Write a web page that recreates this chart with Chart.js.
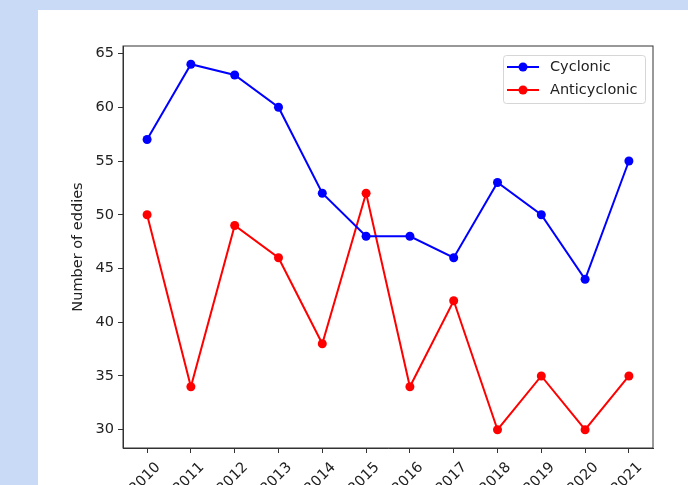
<!DOCTYPE html>
<html>
<head>
<meta charset="utf-8">
<script src="https://cdn.jsdelivr.net/npm/chart.js@4"></script>
<style>
  body { margin: 0; background: #c9daf6; }
  canvas { display: block; }
</style>
</head>
<body>
<canvas id="eddyChart" width="688" height="485"></canvas>
<script>
const years = [2010, 2011, 2012, 2013, 2014, 2015, 2016, 2017, 2018, 2019, 2020, 2021];
const cyclonic = [57, 64, 63, 60, 52, 48, 48, 46, 53, 50, 44, 55];
const anticyclonic = [50, 34, 49, 46, 38, 52, 34, 42, 30, 35, 30, 35];
const yTicks = [30, 35, 40, 45, 50, 55, 60, 65];

const FONT = "'DejaVu Sans', sans-serif";
const FONT_SIZE = 14.5;

// light blue page with the white figure panel on top
const panelBackground = {
  id: "panelBackground",
  beforeDraw(chart) {
    const ctx = chart.ctx;
    ctx.save();
    ctx.fillStyle = "#c9daf6";
    ctx.fillRect(0, 0, chart.width, chart.height);
    ctx.fillStyle = "#ffffff";
    ctx.fillRect(38, 10, chart.width - 38, chart.height - 10);
    ctx.restore();
  },
  afterDatasetsDraw(chart) {
    // top and right spines
    const { ctx, chartArea: a } = chart;
    ctx.save();
    ctx.strokeStyle = "#333";
    ctx.lineWidth = 1;
    ctx.strokeRect(a.left, a.top, a.right - a.left, a.bottom - a.top);
    ctx.restore();
  },
};

// boxed legend in the upper right corner of the axes
const boxLegend = {
  id: "boxLegend",
  afterDraw(chart) {
    const { ctx, chartArea: a } = chart;
    const right = a.right - 8;
    const top = a.top + 9;
    const w = 142, rowH = 23;
    const left = right - w;
    const h = rowH * chart.data.datasets.length + 2;
    ctx.save();
    ctx.fillStyle = "rgba(255,255,255,0.8)";
    ctx.strokeStyle = "#d6d6d6";
    ctx.lineWidth = 1;
    ctx.beginPath();
    ctx.roundRect(left + 0.5, top + 0.5, w, h, 3);
    ctx.fill();
    ctx.stroke();
    ctx.font = FONT_SIZE + "px " + FONT;
    ctx.textBaseline = "middle";
    chart.data.datasets.forEach((ds, i) => {
      const y = top + 12 + i * rowH;
      ctx.strokeStyle = ds.borderColor;
      ctx.lineWidth = 2;
      ctx.beginPath();
      ctx.moveTo(left + 4, y);
      ctx.lineTo(left + 36, y);
      ctx.stroke();
      ctx.fillStyle = ds.borderColor;
      ctx.beginPath();
      ctx.arc(left + 20, y, 4.5, 0, Math.PI * 2);
      ctx.fill();
      ctx.fillStyle = "#222";
      ctx.fillText(ds.label, left + 47, y);
    });
    ctx.restore();
  },
};

const series = (label, values, color) => ({
  label,
  data: years.map((yr, i) => ({ x: yr, y: values[i] })),
  borderColor: color,
  backgroundColor: color,
  borderWidth: 2,
  pointRadius: 4.5,
  pointBorderWidth: 0,
  tension: 0,
});

new Chart(document.getElementById("eddyChart"), {
  type: "line",
  data: {
    datasets: [
      series("Cyclonic", cyclonic, "#0000ff"),
      series("Anticyclonic", anticyclonic, "#ff0000"),
    ],
  },
  options: {
    responsive: false,
    animation: false,
    layout: { padding: { left: 66, top: 46, right: 35, bottom: 0 } },
    plugins: {
      legend: { display: false },
      tooltip: { enabled: false },
    },
    scales: {
      x: {
        type: "linear",
        min: 2009.45,
        max: 2021.55,
        afterBuildTicks: (scale) => {
          scale.ticks = years.map((v) => ({ value: v }));
        },
        afterFit: (scale) => {
          scale.height = 37;
        },
        border: { display: true, color: "#333", width: 1 },
        grid: { drawOnChartArea: false, drawTicks: true, tickLength: 5, color: "#333" },
        ticks: {
          autoSkip: false,
          minRotation: 45,
          maxRotation: 45,
          labelOffset: 11,
          padding: 6,
          color: "#222",
          font: { family: FONT, size: FONT_SIZE },
          callback: (v) => String(v),
        },
      },
      y: {
        min: 28.3,
        max: 65.7,
        afterBuildTicks: (scale) => {
          scale.ticks = yTicks.map((v) => ({ value: v }));
        },
        afterFit: (scale) => {
          scale.width = 57;
        },
        border: { display: true, color: "#333", width: 1 },
        grid: { drawOnChartArea: false, drawTicks: true, tickLength: 5, color: "#333" },
        ticks: {
          padding: 4,
          color: "#222",
          font: { family: FONT, size: FONT_SIZE },
        },
        title: {
          display: true,
          text: "Number of eddies",
          color: "#222",
          padding: { top: 4, bottom: 4 },
          font: { family: FONT, size: FONT_SIZE },
        },
      },
    },
  },
  plugins: [panelBackground, boxLegend],
});
</script>
</body>
</html>
